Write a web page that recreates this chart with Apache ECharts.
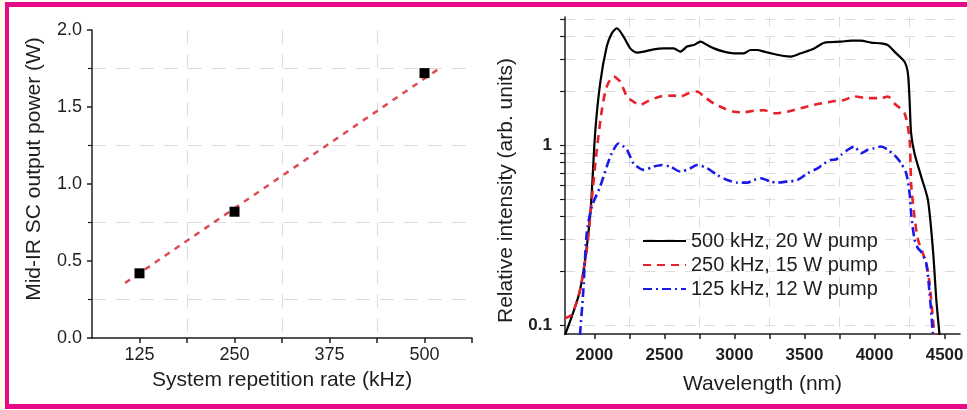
<!DOCTYPE html>
<html><head><meta charset="utf-8">
<script src="https://cdn.jsdelivr.net/npm/echarts@6/dist/echarts.min.js"></script>
<style>html,body{margin:0;padding:0;background:#fff}#c{width:967px;height:410px}</style>
</head><body><div id="c"></div>
<script>
// ---- Left panel data ----
const repRates = [125, 250, 500];
const scPower = [0.42, 0.82, 1.72];
const fitRates = [106, 523];
const fitPower = [0.357, 1.762];
const rateTicks = [125, 187.5, 250, 312.5, 375, 437.5, 500, 562.5];
const rateLabels = [125, 250, 375, 500];
const rateGrid = [187.5, 312.5, 437.5];

// ---- Right panel data ----
const seriesNames = ['500 kHz, 20 W pump', '250 kHz, 15 W pump', '125 kHz, 12 W pump'];
const wl500 = [1790,1897,1969,2005,2041,2088,2124,2160,2208,2256,2303,2351,2423,2494,2566,2614,2661,2709,2757,2805,2853,2924,2996,3067,3115,3163,3211,3282,3354,3402,3473,3569,3641,3760,3832,3903,3975,4047,4094,4142,4214,4238,4250,4261,4285,4333,4381,4417,4441,4464];
const int500 = [0.088,0.156,0.40,1.16,2.20,3.52,4.17,4.45,4.0,3.44,3.26,3.30,3.40,3.44,3.44,3.30,3.52,3.59,3.75,3.59,3.44,3.30,3.23,3.23,3.37,3.37,3.30,3.20,3.12,3.10,3.23,3.44,3.70,3.75,3.80,3.80,3.70,3.67,3.59,3.30,2.90,2.50,1.78,1.16,0.90,0.667,0.495,0.261,0.138,0.088];
const wl250 = [1790,1838,1897,1945,1981,2017,2053,2088,2136,2184,2232,2279,2327,2375,2470,2566,2614,2673,2733,2781,2853,2924,2996,3067,3139,3211,3282,3378,3473,3569,3688,3784,3855,3951,4047,4094,4142,4214,4250,4261,4285,4309,4345,4369,4393,4417,4429];
const int250 = [0.109,0.114,0.156,0.261,0.495,0.94,1.56,2.11,2.40,2.25,1.86,1.74,1.67,1.74,1.86,1.88,1.86,1.94,1.98,1.86,1.70,1.60,1.53,1.52,1.55,1.56,1.50,1.53,1.60,1.67,1.74,1.78,1.86,1.82,1.82,1.86,1.70,1.50,1.07,0.61,0.40,0.30,0.25,0.22,0.17,0.107,0.088];
const wl125 = [1897,1921,1945,1981,2041,2088,2124,2172,2232,2279,2351,2423,2482,2542,2614,2685,2733,2805,2877,2948,3020,3091,3139,3187,3259,3306,3378,3450,3521,3593,3641,3688,3724,3760,3808,3855,3903,3951,3999,4047,4094,4142,4190,4226,4250,4261,4285,4309,4333,4369,4393,4417];
const int125 = [0.088,0.156,0.323,0.454,0.587,0.758,0.90,1.02,0.94,0.79,0.727,0.758,0.774,0.758,0.711,0.742,0.774,0.742,0.681,0.639,0.618,0.618,0.639,0.653,0.626,0.618,0.626,0.639,0.696,0.742,0.79,0.826,0.83,0.88,0.94,0.98,0.90,0.94,0.96,0.98,0.94,0.88,0.79,0.696,0.54,0.417,0.30,0.267,0.255,0.22,0.15,0.088];
const wlTicks = [2000,2250,2500,2750,3000,3250,3500,3750,4000,4250,4500];
const wlLabels = [2000,2500,3000,3500,4000,4500];
const wlGrid = [2250,2750,3250,3750,4250];
const intTicks = [0.1,0.2,0.3,0.4,0.5,0.6,0.7,0.8,0.9,1,2,3,4,5];
const intLabels = [0.1,1];

const zip = (a, b) => a.map((v, i) => [v, b[i]]);
const FONT = '"Liberation Sans", Arial, sans-serif';
const INK = '#1e1e1e';
const GRIDC = '#dcdcdc';
const MAG = '#e8088a';

const chart = echarts.init(document.getElementById('c'), null, {renderer: 'canvas'});
chart.setOption({
  animation: false,
  backgroundColor: '#fff',
  textStyle: {fontFamily: FONT},
  graphic: [
    {type: 'rect', shape: {x: 0, y: 0, width: 5, height: 410}, style: {fill: '#fffbe6'}, silent: true},
    {type: 'rect', shape: {x: 5, y: 2, width: 962, height: 5}, style: {fill: MAG}, silent: true},
    {type: 'rect', shape: {x: 5, y: 404, width: 962, height: 5}, style: {fill: MAG}, silent: true},
    {type: 'rect', shape: {x: 5, y: 2, width: 4, height: 407}, style: {fill: MAG}, silent: true}
  ],
  grid: [
    {left: 92, top: 30, width: 380, height: 308, containLabel: false},
    {left: 565, top: 17, width: 395, height: 317, containLabel: false}
  ],
  legend: {
    data: seriesNames,
    orient: 'vertical',
    left: 642, top: 231,
    itemWidth: 43, itemHeight: 14, itemGap: 4,
    itemStyle: {opacity: 0},
    textStyle: {fontSize: 20, color: INK, lineHeight: 20, fontFamily: FONT},
    padding: 0
  },
  xAxis: [
    {
      type: 'value', gridIndex: 0, min: 62.5, max: 562.5,
      name: 'System repetition rate (kHz)', nameLocation: 'middle', nameGap: 32,
      nameTextStyle: {fontSize: 21, color: INK, fontFamily: FONT},
      axisLine: {lineStyle: {color: INK, width: 1.5}},
      axisTick: {customValues: rateTicks, length: 5, lineStyle: {color: INK, width: 1.5}},
      axisLabel: {customValues: rateLabels, fontSize: 18, color: INK, margin: 8, fontFamily: FONT, formatter: v => String(v)},
      splitLine: {show: false}
    },
    {
      type: 'value', gridIndex: 0, min: 62.5, max: 562.5, position: 'bottom',
      axisLine: {show: false},
      axisTick: {show: false, customValues: rateGrid},
      axisLabel: {show: false, customValues: rateGrid},
      splitLine: {show: true, lineStyle: {color: GRIDC, type: [14, 10], width: 1}}
    },
    {
      type: 'value', gridIndex: 1, min: 1790, max: 4610,
      name: 'Wavelength (nm)', nameLocation: 'middle', nameGap: 40,
      nameTextStyle: {fontSize: 21, color: INK, fontFamily: FONT},
      axisLine: {lineStyle: {color: INK, width: 1.5}},
      axisTick: {customValues: wlTicks, length: 5, lineStyle: {color: INK, width: 1.5}},
      axisLabel: {customValues: wlLabels, fontSize: 17, fontWeight: 'bold', color: INK, margin: 13, fontFamily: FONT, formatter: v => String(v)},
      splitLine: {show: false}
    },
    {
      type: 'value', gridIndex: 1, min: 1790, max: 4610, position: 'bottom',
      axisLine: {show: false},
      axisTick: {show: false, customValues: wlGrid},
      axisLabel: {show: false, customValues: wlGrid},
      splitLine: {show: true, lineStyle: {color: GRIDC, type: [10, 10], width: 1}}
    }
  ],
  yAxis: [
    {
      type: 'value', gridIndex: 0, min: 0, max: 2, interval: 0.5,
      name: 'Mid-IR SC output power (W)', nameLocation: 'middle', nameGap: 47,
      nameTextStyle: {fontSize: 21, color: INK, fontFamily: FONT, padding: [0, 0, 0, 30]},
      axisLine: {show: true, lineStyle: {color: INK, width: 1.5}},
      axisTick: {show: true, length: 5, lineStyle: {color: INK, width: 1.5}},
      minorTick: {show: true, splitNumber: 2, length: 4, lineStyle: {color: INK, width: 1.2}},
      axisLabel: {fontSize: 18, color: INK, margin: 10, fontFamily: FONT, formatter: v => v.toFixed(1)},
      splitLine: {show: false},
      minorSplitLine: {show: true, lineStyle: {color: GRIDC, type: [14, 10], width: 1}}
    },
    {
      type: 'log', logBase: 10, gridIndex: 1, min: 0.0891, max: 5.14,
      name: 'Relative intensity (arb. units)', nameLocation: 'middle', nameGap: 48,
      nameTextStyle: {fontSize: 21, color: INK, fontFamily: FONT, padding: [0, 30, 0, 0]},
      axisLine: {show: true, lineStyle: {color: INK, width: 1.5}},
      axisTick: {show: true, customValues: intTicks, length: 5, lineStyle: {color: INK, width: 1.2}},
      axisLabel: {customValues: intLabels, fontSize: 17, fontWeight: 'bold', color: INK, margin: 13, fontFamily: FONT,
        formatter: v => String(+(+v).toPrecision(3))},
      splitLine: {show: true, lineStyle: {color: GRIDC, type: [10, 10], width: 1}}
    }
  ],
  series: [
    {
      name: 'fit', type: 'line', xAxisIndex: 0, yAxisIndex: 0,
      data: zip(fitRates, fitPower), symbol: 'none',
      lineStyle: {color: '#e04a55', width: 2.5, type: [6, 6]}, z: 3
    },
    {
      name: 'measured', type: 'scatter', xAxisIndex: 0, yAxisIndex: 0,
      data: zip(repRates, scPower), symbol: 'rect', symbolSize: 10,
      itemStyle: {color: '#000', opacity: 1}, z: 4
    },
    {
      name: seriesNames[0], type: 'line', xAxisIndex: 2, yAxisIndex: 1,
      data: zip(wl500, int500), symbol: 'none', smooth: 0.25,
      itemStyle: {color: '#000'},
      lineStyle: {color: '#000', width: 2.2, type: 'solid'}
    },
    {
      name: seriesNames[1], type: 'line', xAxisIndex: 2, yAxisIndex: 1,
      data: zip(wl250, int250), symbol: 'none', smooth: 0.25,
      itemStyle: {color: '#e8202a'},
      lineStyle: {color: '#e8202a', width: 2.6, type: [8, 6]}
    },
    {
      name: seriesNames[2], type: 'line', xAxisIndex: 2, yAxisIndex: 1,
      data: zip(wl125, int125), symbol: 'none', smooth: 0.25,
      itemStyle: {color: '#1a1ae6'},
      lineStyle: {color: '#1a1ae6', width: 2.6, type: [9, 4, 2, 4]}
    }
  ]
});
</script>
</body></html>
